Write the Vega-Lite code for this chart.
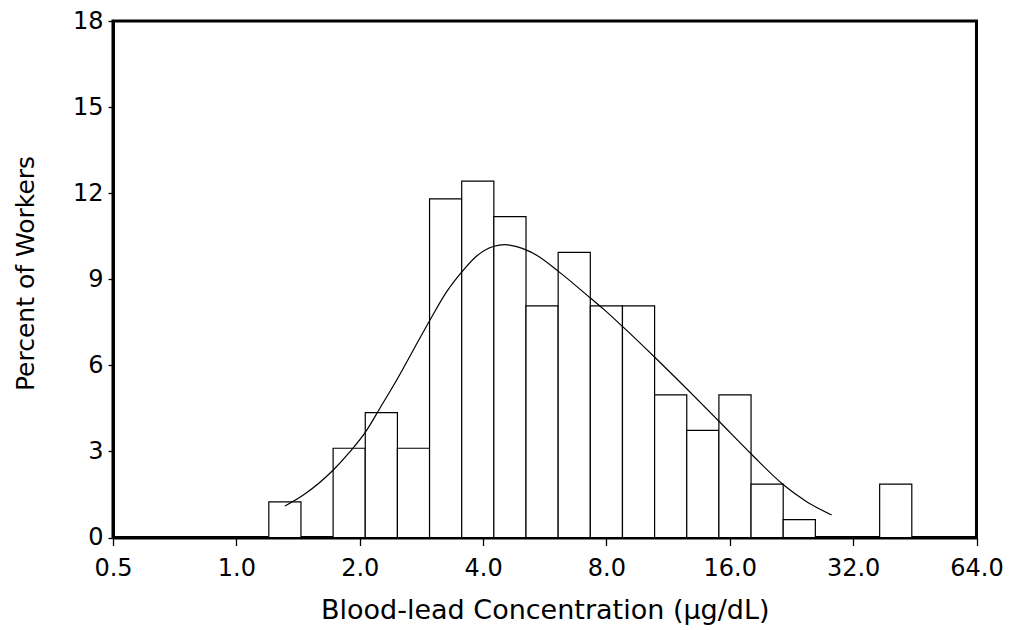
{
  "$schema": "https://vega.github.io/schema/vega-lite/v6.json",
  "width": 863.5,
  "height": 516.5,
  "autosize": {"type": "none"},
  "padding": {"left": 113, "top": 21, "right": 38.5, "bottom": 92.5},
  "background": "white",
  "config": {
    "font": "DejaVu Sans",
    "view": {"stroke": "black", "strokeWidth": 3},
    "axis": {
      "grid": false,
      "labelColor": "black",
      "titleColor": "black",
      "titleFontWeight": "normal",
      "labelFontWeight": "normal",
      "tickColor": "black",
      "domainColor": "black",
      "domainWidth": 3,
      "tickWidth": 1.3,
      "zindex": 1
    }
  },
  "layer": [
    {
      "data": {
        "values": [
          {"lo": 1.2, "hi": 1.4376, "pct": 1.24},
          {"lo": 1.7223, "hi": 2.0633, "pct": 3.11},
          {"lo": 2.0633, "hi": 2.4718, "pct": 4.35},
          {"lo": 2.4718, "hi": 2.9612, "pct": 3.11},
          {"lo": 2.9612, "hi": 3.5475, "pct": 11.8},
          {"lo": 3.5475, "hi": 4.2499, "pct": 12.42},
          {"lo": 4.2499, "hi": 5.0914, "pct": 11.18},
          {"lo": 5.0914, "hi": 6.0995, "pct": 8.07},
          {"lo": 6.0995, "hi": 7.3072, "pct": 9.94},
          {"lo": 7.3072, "hi": 8.754, "pct": 8.07},
          {"lo": 8.754, "hi": 10.487, "pct": 8.07},
          {"lo": 10.487, "hi": 12.564, "pct": 4.97},
          {"lo": 12.564, "hi": 15.051, "pct": 3.73},
          {"lo": 15.051, "hi": 18.031, "pct": 4.97},
          {"lo": 18.031, "hi": 21.601, "pct": 1.86},
          {"lo": 21.601, "hi": 25.878, "pct": 0.62},
          {"lo": 37.14, "hi": 44.494, "pct": 1.86}
        ]
      },
      "mark": {"type": "rect", "fill": "white", "stroke": "black", "strokeWidth": 1.2},
      "encoding": {
        "x": {
          "field": "lo",
          "type": "quantitative",
          "title": "Blood-lead Concentration (μg/dL)",
          "scale": {"type": "log", "base": 2, "domain": [0.5, 64], "nice": false},
          "axis": {
            "values": [0.5, 1, 2, 4, 8, 16, 32, 64],
            "format": ".1f",
            "tickSize": 8,
            "labelPadding": 11,
            "labelFontSize": 24,
            "labelOverlap": false,
            "labelFlush": false,
            "titleFontSize": 27,
            "titleBaseline": "alphabetic",
            "titleY": 81
          }
        },
        "x2": {"field": "hi"},
        "y": {
          "field": "pct",
          "type": "quantitative",
          "title": "Percent of Workers",
          "scale": {"domain": [0, 18], "nice": false},
          "axis": {
            "values": [0, 3, 6, 9, 12, 15, 18],
            "tickSize": 5,
            "labelPadding": 5,
            "labelFontSize": 24,
            "labelOverlap": false,
            "labelFlush": false,
            "titleFontSize": 25,
            "titleBaseline": "alphabetic",
            "titleX": -80,
            "titleY": 252
          }
        },
        "y2": {"datum": 0}
      }
    },
    {
      "data": {
        "values": [
          {"conc": 1.314, "pct": 1.098},
          {"conc": 1.457, "pct": 1.481},
          {"conc": 1.724, "pct": 2.353},
          {"conc": 1.894, "pct": 2.991},
          {"conc": 2.069, "pct": 3.688},
          {"conc": 2.242, "pct": 4.514},
          {"conc": 2.476, "pct": 5.549},
          {"conc": 2.703, "pct": 6.535},
          {"conc": 2.969, "pct": 7.581},
          {"conc": 3.261, "pct": 8.567},
          {"conc": 3.554, "pct": 9.265},
          {"conc": 3.859, "pct": 9.812},
          {"conc": 4.236, "pct": 10.143},
          {"conc": 4.524, "pct": 10.206},
          {"conc": 4.832, "pct": 10.136},
          {"conc": 5.207, "pct": 9.962},
          {"conc": 5.407, "pct": 9.833},
          {"conc": 6.118, "pct": 9.265},
          {"conc": 7.323, "pct": 8.337},
          {"conc": 7.86, "pct": 7.968},
          {"conc": 8.766, "pct": 7.348},
          {"conc": 10.51, "pct": 6.274},
          {"conc": 12.58, "pct": 5.176},
          {"conc": 15.08, "pct": 4.043},
          {"conc": 18.05, "pct": 2.91},
          {"conc": 21.66, "pct": 1.83},
          {"conc": 24.65, "pct": 1.248},
          {"conc": 28.36, "pct": 0.784}
        ]
      },
      "mark": {"type": "line", "color": "black", "strokeWidth": 1.2, "interpolate": "monotone"},
      "encoding": {
        "x": {"field": "conc", "type": "quantitative", "title": "Blood-lead Concentration (μg/dL)"},
        "y": {"field": "pct", "type": "quantitative", "title": "Percent of Workers"}
      }
    }
  ]
}
